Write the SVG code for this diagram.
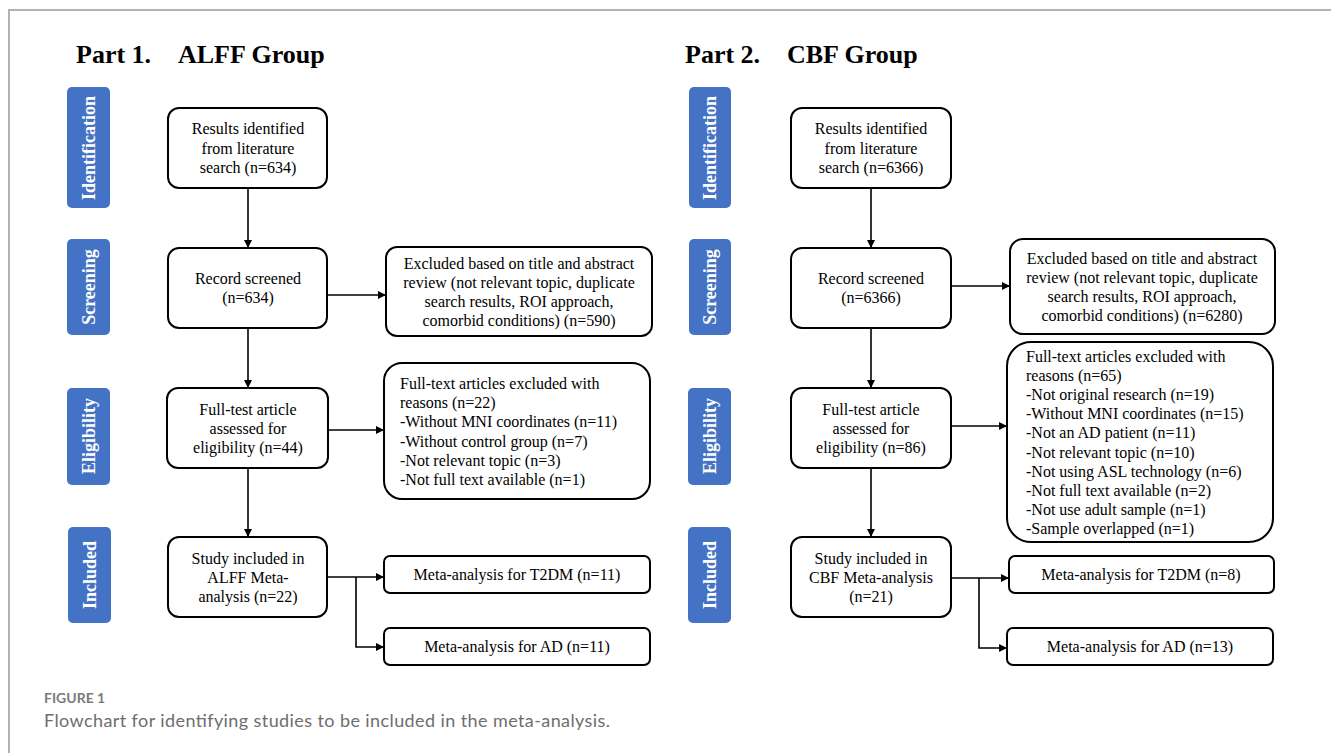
<svg xmlns="http://www.w3.org/2000/svg" width="1331" height="753" viewBox="0 0 1331 753">
<style>
.frame{stroke:#b3b3b3;stroke-width:2;fill:none}
.title{font-family:"Liberation Serif",serif;font-weight:bold;font-size:26px;fill:#000}
.lab rect{fill:#4472c4}
.lab text{font-family:"Liberation Serif",serif;font-weight:bold;font-size:18px;fill:#fff;text-anchor:middle}
.box rect{fill:#fff;stroke:#000;stroke-width:2}
.box text{font-family:"Liberation Serif",serif;font-size:16px;fill:#000}
.c{text-anchor:middle}
.conn path{fill:none;stroke:#000;stroke-width:1.6}
.cap1{font-family:Lato,"Open Sans",sans-serif;font-weight:bold;font-size:14px;fill:#7a7a7a}
.cap2{font-family:Lato,"Open Sans",sans-serif;font-size:18px;fill:#6e6e6e}
</style>
<defs>
<marker id="ah" viewBox="0 0 10 10" refX="10" refY="5" markerWidth="8" markerHeight="8" markerUnits="userSpaceOnUse" orient="auto">
<path d="M0,0 L10,5 L0,10 z" fill="#000"/>
</marker>
</defs>
<path class="frame" d="M9,753 V10 H1331"/>
<text class="title" x="76" y="63">Part 1.<tspan x="178">ALFF Group</tspan></text>
<text class="title" x="685" y="63">Part 2.<tspan x="787">CBF Group</tspan></text>

<g id="lab-id-1" class="lab"><rect x="67" y="87" width="43" height="121" rx="5"/><text transform="translate(95,148) rotate(-90)">Identification</text></g>
<g id="lab-scr-1" class="lab"><rect x="67" y="239" width="43" height="96" rx="5"/><text transform="translate(95,287) rotate(-90)">Screening</text></g>
<g id="lab-eli-1" class="lab"><rect x="67" y="388" width="43" height="97" rx="5"/><text transform="translate(95,436) rotate(-90)">Eligibility</text></g>
<g id="lab-inc-1" class="lab"><rect x="68" y="527" width="43" height="96" rx="5"/><text transform="translate(96,575) rotate(-90)">Included</text></g>

<g id="lab-id-2" class="lab"><rect x="689" y="87" width="42" height="121" rx="5"/><text transform="translate(716,148) rotate(-90)">Identification</text></g>
<g id="lab-scr-2" class="lab"><rect x="689" y="239" width="42" height="96" rx="5"/><text transform="translate(716,287) rotate(-90)">Screening</text></g>
<g id="lab-eli-2" class="lab"><rect x="688" y="388" width="43" height="97" rx="5"/><text transform="translate(716,436) rotate(-90)">Eligibility</text></g>
<g id="lab-inc-2" class="lab"><rect x="688" y="527" width="43" height="96" rx="5"/><text transform="translate(716,575) rotate(-90)">Included</text></g>

<g id="l-search" class="box"><rect x="168" y="108" width="159" height="80" rx="11"/>
<text class="c" x="248" y="134">Results identified</text><text class="c" x="248" y="154">from literature</text><text class="c" x="248" y="173">search (n=634)</text></g>
<g id="l-screen" class="box"><rect x="168" y="248" width="159" height="80" rx="11"/>
<text class="c" x="248" y="284">Record screened</text><text class="c" x="248" y="303">(n=634)</text></g>
<g id="l-excl1" class="box"><rect x="386" y="247" width="266" height="89" rx="11"/>
<text class="c" x="519" y="269">Excluded based on title and abstract</text><text class="c" x="519" y="288">review (not relevant topic, duplicate</text><text class="c" x="519" y="307">search results, ROI approach,</text><text class="c" x="519" y="326">comorbid conditions) (n=590)</text></g>
<g id="l-full" class="box"><rect x="167" y="388" width="161" height="80" rx="11"/>
<text class="c" x="248" y="415">Full-test article</text><text class="c" x="248" y="434">assessed for</text><text class="c" x="248" y="453">eligibility (n=44)</text></g>
<g id="l-excl2" class="box"><rect x="384" y="363" width="266" height="136" rx="18"/>
<text x="400" y="389">Full-text articles excluded with</text><text x="400" y="408">reasons (n=22)</text><text x="400" y="427">-Without MNI coordinates (n=11)</text><text x="400" y="447">-Without control group (n=7)</text><text x="400" y="466">-Not relevant topic (n=3)</text><text x="400" y="485">-Not full text available (n=1)</text></g>
<g id="l-incl" class="box"><rect x="168" y="537" width="159" height="80" rx="11"/>
<text class="c" x="248" y="564">Study included in</text><text class="c" x="248" y="583">ALFF Meta-</text><text class="c" x="248" y="602">analysis (n=22)</text></g>
<g id="l-t2dm" class="box"><rect x="384" y="556" width="266" height="37" rx="6"/>
<text class="c" x="517" y="580">Meta-analysis for T2DM (n=11)</text></g>
<g id="l-ad" class="box"><rect x="384" y="628" width="266" height="37" rx="6"/>
<text class="c" x="517" y="652">Meta-analysis for AD (n=11)</text></g>

<g id="r-search" class="box"><rect x="791" y="108" width="160" height="80" rx="11"/>
<text class="c" x="871" y="134">Results identified</text><text class="c" x="871" y="154">from literature</text><text class="c" x="871" y="173">search (n=6366)</text></g>
<g id="r-screen" class="box"><rect x="791" y="248" width="160" height="80" rx="11"/>
<text class="c" x="871" y="284">Record screened</text><text class="c" x="871" y="303">(n=6366)</text></g>
<g id="r-excl1" class="box"><rect x="1010" y="239" width="265" height="95" rx="13"/>
<text class="c" x="1142" y="264">Excluded based on title and abstract</text><text class="c" x="1142" y="283">review (not relevant topic, duplicate</text><text class="c" x="1142" y="302">search results, ROI approach,</text><text class="c" x="1142" y="321">comorbid conditions) (n=6280)</text></g>
<g id="r-full" class="box"><rect x="791" y="388" width="160" height="80" rx="11"/>
<text class="c" x="871" y="415">Full-test article</text><text class="c" x="871" y="434">assessed for</text><text class="c" x="871" y="453">eligibility (n=86)</text></g>
<g id="r-excl2" class="box"><rect x="1007" y="342" width="266" height="200" rx="24"/>
<text x="1026" y="362">Full-text articles excluded with</text><text x="1026" y="381">reasons (n=65)</text><text x="1026" y="400">-Not original research (n=19)</text><text x="1026" y="419">-Without MNI coordinates (n=15)</text><text x="1026" y="438">-Not an AD patient (n=11)</text><text x="1026" y="458">-Not relevant topic (n=10)</text><text x="1026" y="477">-Not using ASL technology (n=6)</text><text x="1026" y="496">-Not full text available (n=2)</text><text x="1026" y="515">-Not use adult sample (n=1)</text><text x="1026" y="534">-Sample overlapped (n=1)</text></g>
<g id="r-incl" class="box"><rect x="791" y="537" width="160" height="80" rx="11"/>
<text class="c" x="871" y="564">Study included in</text><text class="c" x="871" y="583">CBF Meta-analysis</text><text class="c" x="871" y="602">(n=21)</text></g>
<g id="r-t2dm" class="box"><rect x="1009" y="556" width="265" height="37" rx="6"/>
<text class="c" x="1141" y="580">Meta-analysis for T2DM (n=8)</text></g>
<g id="r-ad" class="box"><rect x="1007" y="628" width="266" height="37" rx="6"/>
<text class="c" x="1140" y="652">Meta-analysis for AD (n=13)</text></g>

<g id="connectors" class="conn">
<path d="M248,188 V248" marker-end="url(#ah)"/>
<path d="M248,328 V388" marker-end="url(#ah)"/>
<path d="M248,468 V537" marker-end="url(#ah)"/>
<path d="M327,295 H386" marker-end="url(#ah)"/>
<path d="M328,430 H384" marker-end="url(#ah)"/>
<path d="M327,577 H384" marker-end="url(#ah)"/>
<path d="M356,577 V647 H384" marker-end="url(#ah)"/>
<path d="M871,188 V248" marker-end="url(#ah)"/>
<path d="M871,328 V388" marker-end="url(#ah)"/>
<path d="M871,468 V537" marker-end="url(#ah)"/>
<path d="M951,286 H1010" marker-end="url(#ah)"/>
<path d="M951,426 H1007" marker-end="url(#ah)"/>
<path d="M951,578 H1009" marker-end="url(#ah)"/>
<path d="M979,578 V648 H1007" marker-end="url(#ah)"/>
</g>

<text class="cap1" x="44" y="703">FIGURE 1</text>
<text class="cap2" x="44" y="727" textLength="566" lengthAdjust="spacing">Flowchart for identifying studies to be included in the meta-analysis.</text>
</svg>
